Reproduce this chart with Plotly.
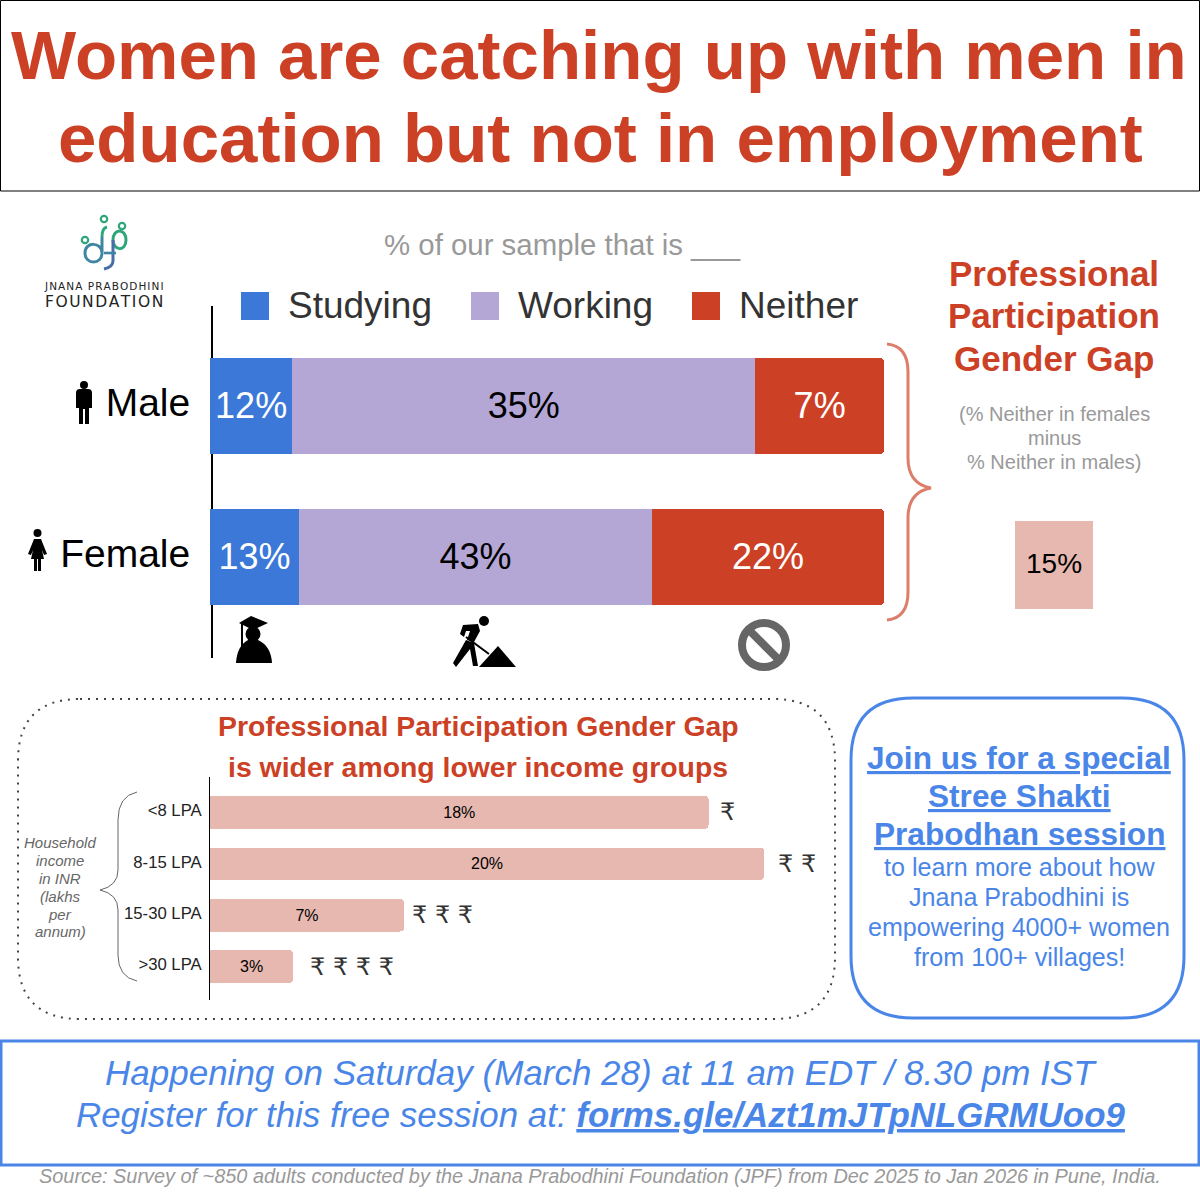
import plotly.graph_objects as go

# category labels
genders = ['Male', 'Female']
income_groups = ['<8 LPA', '8-15 LPA', '15-30 LPA', '>30 LPA']

# the printed percentages on the top bars do not match the drawn lengths in the
# original, so lengths (share of bar) and labels are kept apart
studying_len = [12.2, 13.2]
working_len = [68.7, 52.4]
neither_len = [19.1, 34.4]
studying_txt = ['12%', '13%']
working_txt = ['35%', '43%']
neither_txt = ['7%', '22%']

gap_values = [18, 20, 7, 3]
gap_txt = ['18%', '20%', '7%', '3%']
rupee_marks = ['₹', '₹ ₹', '₹ ₹ ₹', '₹ ₹ ₹ ₹']
rupee_shift = [9, 12, 6, 15]

legend_names = ['Studying', 'Working', 'Neither']

title_lines = ['Women are catching up with men in', 'education but not in employment']
gap_title = ['Professional', 'Participation', 'Gender Gap']
gap_note = ['(% Neither in females', 'minus', '% Neither in males)']
gap_total = '15%'
low_title = ['Professional Participation Gender Gap', 'is wider among lower income groups']
income_note = ['Household', 'income', 'in INR', '(lakhs', 'per', 'annum)']
join_head = ['Join us for a special', 'Stree Shakti', 'Prabodhan session']
join_body = ['to learn more about how', 'Jnana Prabodhini is', 'empowering 4000+ women', 'from 100+ villages!']

BLUE = '#3c78d8'
PURPLE = '#b4a7d6'
RED = '#cc4125'
PINK = '#e6b8af'
BRACE = '#dd7e6b'
LINK = '#4a86e8'
FONT = 'Liberation Sans'
W = 1200.0


def px(x):
    return x / W


def py(y):
    return 1 - y / W


def path(s):
    # absolute SVG path written in page pixels, turned into paper coordinates
    out = []
    is_x = True
    for tok in s.split():
        if tok.isalpha():
            out.append(tok)
            is_x = True
        else:
            out.append(str(px(float(tok)) if is_x else py(float(tok))))
            is_x = not is_x
    return ' '.join(out)


shapes = []
notes = []


def add_path(s, fill=None, color=None, width=0, dash=None):
    line = {'color': color or 'rgba(0,0,0,0)', 'width': width}
    if dash:
        line['dash'] = dash
    shapes.append(dict(type='path', xref='paper', yref='paper', path=path(s),
                       fillcolor=fill or 'rgba(0,0,0,0)', line=line))


def add_rect(x0, y0, x1, y1, fill=None, color=None, width=0):
    shapes.append(dict(type='rect', xref='paper', yref='paper', x0=px(x0), x1=px(x1), y0=py(y0), y1=py(y1),
                       fillcolor=fill or 'rgba(0,0,0,0)',
                       line={'color': color or 'rgba(0,0,0,0)', 'width': width}))


def add_circle(cx, cy, r, fill=None, color=None, width=0):
    shapes.append(dict(type='circle', xref='paper', yref='paper', x0=px(cx - r), x1=px(cx + r),
                       y0=py(cy + r), y1=py(cy - r), fillcolor=fill or 'rgba(0,0,0,0)',
                       line={'color': color or 'rgba(0,0,0,0)', 'width': width}))


def add_line(x0, y0, x1, y1, color, width):
    shapes.append(dict(type='line', xref='paper', yref='paper', x0=px(x0), x1=px(x1), y0=py(y0), y1=py(y1),
                       line={'color': color, 'width': width}))


def round_box(x0, y0, x1, y1, r):
    return (f'M {x0 + r} {y0} L {x1 - r} {y0} Q {x1} {y0} {x1} {y0 + r} L {x1} {y1 - r} Q {x1} {y1} {x1 - r} {y1} '
            f'L {x0 + r} {y1} Q {x0} {y1} {x0} {y1 - r} L {x0} {y0 + r} Q {x0} {y0} {x0 + r} {y0} Z')


def note(text, x, y, size, color='black', anchor='center', family=FONT):
    notes.append(dict(text=text, xref='paper', yref='paper', x=px(x), y=py(y), showarrow=False,
                      xanchor=anchor, yanchor='middle', borderpad=0,
                      font={'family': family, 'size': size, 'color': color}))


fig = go.Figure()

# top chart
for vals, txt, name, col, tcol in [(studying_len, studying_txt, legend_names[0], BLUE, 'white'),
                                   (working_len, working_txt, legend_names[1], PURPLE, 'black'),
                                   (neither_len, neither_txt, legend_names[2], RED, 'white')]:
    fig.add_trace(go.Bar(y=genders, x=vals, name=name, orientation='h', text=txt, marker={'color': col, 'line': {'width': 0}},
                         textposition='inside', insidetextanchor='middle', textangle=0, constraintext='none',
                         textfont={'family': FONT, 'size': 36, 'color': tcol}, xaxis='x', yaxis='y'))

# lower chart
fig.add_trace(go.Bar(y=income_groups, x=gap_values, orientation='h', text=gap_txt, marker={'color': PINK, 'line': {'width': 0}},
                     textposition='inside', insidetextanchor='middle', textangle=0, constraintext='none',
                     textfont={'family': FONT, 'size': 16, 'color': 'black'}, xaxis='x2', yaxis='y2'))

for group, val, mark, shift in zip(income_groups, gap_values, rupee_marks, rupee_shift):
    notes.append(dict(text=mark, x=val, y=group, xref='x2', yref='y2', xanchor='left', xshift=shift,
                      showarrow=False, font={'family': 'DejaVu Sans', 'size': 24, 'color': '#333333'}))

# title box
add_rect(0.5, 0.5, 1199.5, 191, color='black', width=1)
note('<b>' + title_lines[0] + '</b>', 599, 56, 69, RED)
note('<b>' + title_lines[1] + '</b>', 600, 138, 69, RED)

# logo
for cx, cy in [(104, 219), (122, 226), (85, 240)]:
    add_circle(cx, cy, 3.2, color='#2ea67a', width=2.2)
add_path('M 107 227 Q 102 228 102 237', color='#2ea67a', width=3)
add_path('M 102 237 L 102 253 C 102 265 85 265 85 253 C 85 241 102 242 102 253', color='#3f86a4', width=3)
add_path('M 113 240 C 113 228 126 228 126 240 C 126 252 113 251 113 240', color='#2ea67a', width=3)
add_path('M 113 240 L 113 261 Q 113 267 104 269', color='#4a6fa8', width=3)
add_line(104, 253, 116, 253, '#3f86a4', 2.6)
note('\u200a'.join('JNANA PRABODHINI'), 104, 286, 10.5, '#222222', family='DejaVu Sans')
note('\u200a'.join('FOUNDATION'), 104, 302, 15.5, '#222222', family='DejaVu Sans')

# heading and legend of top chart
note('% of our sample that is ___', 562.5, 245, 29.4, '#999999')
for x0, name, col, tx in zip([241, 471, 692], legend_names, [BLUE, PURPLE, RED], [287, 517, 738]):
    add_rect(x0, 292, x0 + 28, 320, fill=col)
    note(name, tx, 305, 37, '#333333', anchor='left')

# person icons
add_circle(84, 385, 4, fill='black')
add_path('M 76 393 Q 76 389 80 389 L 88 389 Q 92 389 92 393 L 92 408 L 89 408 L 89 424 L 85 424 L 85 409 L 83 409 L 83 424 L 79 424 L 79 408 L 76 408 Z', fill='black')
add_circle(37.5, 533, 4, fill='black')
add_path('M 34 539 L 41 539 L 47 554 L 44 555 L 42 550 L 44 559 L 41 559 L 41 571 L 38 571 L 38 559 L 37 559 L 37 571 L 34 571 L 34 559 L 31 559 L 33 550 L 31 555 L 28 554 Z', fill='black')

# icons under the bars
add_path('M 239 623 L 251 616 L 268 623 L 253 630 Z', fill='black')
add_circle(253, 634, 7.5, fill='black')
add_path('M 236 663 Q 237 646 248 640 L 258 640 Q 271 646 272 663 Z', fill='black')
add_line(242, 624, 242, 648, 'black', 2)

add_circle(484, 621, 5, fill='black')
add_path('M 463 625 L 478 624 L 480 631 L 474 642 L 467 640 L 470 631 L 466 631 L 464 637 L 460 634 Z', fill='black')
add_path('M 466 640 L 474 643 L 478 666 L 473 666 L 470 649 L 456 667 L 453 663 Z', fill='black')
add_line(466, 637, 489, 654, 'black', 2)
add_path('M 479 667 L 498 646 L 516 667 Z', fill='black')

add_circle(764, 645, 22, color='#666666', width=8)
add_line(749, 630, 779, 660, '#666666', 8)

# right brace and gap panel
add_path('M 887 344 Q 908 346 908 372 L 908 458 Q 908 484 931 488 Q 908 492 908 518 L 908 592 Q 908 618 887 620',
         color=BRACE, width=3)
for line, y in zip(gap_title, [274, 316, 358]):
    note('<b>' + line + '</b>', 1054, y, 35, RED)
for line, y in zip(gap_note, [414, 438, 462]):
    note(line, 1054, y, 20, '#999999')
add_rect(1015, 521, 1093, 609, fill=PINK)
note(gap_total, 1054, 563, 28, 'black')

# lower panel
add_path(round_box(18, 699, 835, 1019, 62), color='#444444', width=2, dash='2px,6px')
for line, y in zip(low_title, [726, 767]):
    note('<b>' + line + '</b>', 478, y, 28.4, RED)
for line, y in zip(income_note, [842, 860, 878, 896, 914, 931]):
    note('<i>' + line + '</i>', 60, y, 15, '#666666')
add_path('M 137 792 Q 118 796 118 820 L 118 870 Q 118 886 100 890 Q 118 894 118 910 L 118 955 Q 118 977 137 981',
         color='#666666', width=1)

# join box
add_path(round_box(851, 698, 1184, 1018, 62), color=LINK, width=3)
for line, y in zip(join_head, [758, 796, 834]):
    note('<b><u>' + line + '</u></b>', 1019, y, 31.6, LINK)
for line, y in zip(join_body, [867, 897, 927, 957]):
    note(line, 1019, y, 25.1, LINK)

# bottom banner
add_rect(1, 1041, 1199, 1165, color=LINK, width=3)
note('<i>Happening on Saturday (March 28) at 11 am EDT / 8.30 pm IST</i>', 601, 1072, 35, LINK)
note('<i>Register for this free session at: <b><u>forms.gle/Azt1mJTpNLGRMUoo9</u></b></i>', 600, 1114, 34.9, LINK)
note('<i>Source: Survey of ~850 adults conducted by the Jnana Prabodhini Foundation (JPF) from Dec 2025 to Jan 2026 in Pune, India.</i>',
     600, 1176, 19.9, '#999999')

fig.update_layout(
    width=1200, height=1200, margin={'l': 0, 'r': 0, 't': 0, 'b': 0, 'pad': 0}, autosize=False,
    paper_bgcolor='white', plot_bgcolor='rgba(0,0,0,0)', showlegend=False,
    barmode='stack', bargap=0.364, barcornerradius=4,
    shapes=shapes, annotations=notes,
    xaxis={'domain': [px(210), px(884)], 'range': [0, 100], 'visible': False, 'anchor': 'y', 'fixedrange': True},
    yaxis={'domain': [py(658), py(306)], 'range': [1.669, -0.662], 'type': 'category', 'anchor': 'free', 'position': px(212),
           'showline': True, 'linecolor': 'black', 'linewidth': 2, 'showgrid': False, 'zeroline': False, 'ticks': '',
           'ticklabelstandoff': 13, 'ticklabelshift': 4, 'layer': 'below traces',
           'tickfont': {'family': FONT, 'size': 39, 'color': 'black'}},
    xaxis2={'domain': [px(210), px(764)], 'range': [0, 20], 'visible': False, 'anchor': 'y2', 'fixedrange': True},
    yaxis2={'domain': [py(1000), py(777)], 'range': [3.65, -0.69], 'type': 'category', 'anchor': 'x2',
            'showline': True, 'linecolor': 'black', 'linewidth': 1, 'showgrid': False, 'zeroline': False, 'ticks': '',
            'ticklabelstandoff': 4, 'ticklabelshift': 2, 'layer': 'below traces',
            'tickfont': {'family': FONT, 'size': 16.7, 'color': '#222222'}},
)

fig.write_html("out.html", config={'displayModeBar': False},
               post_script="document.body.style.margin='0';document.body.style.overflow='hidden';")
